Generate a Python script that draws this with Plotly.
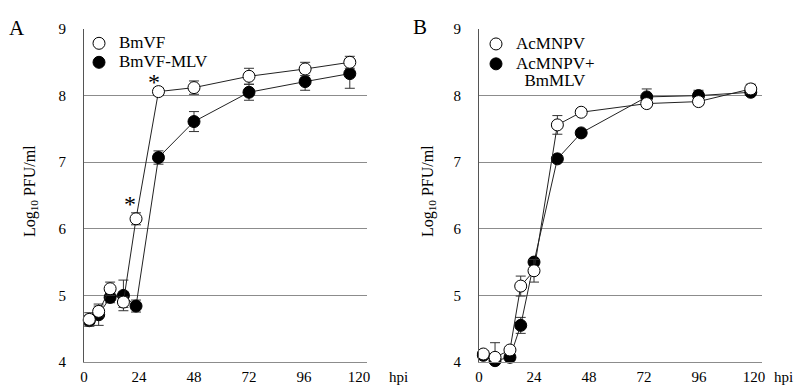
import plotly.graph_objects as go

# ---------------- data ----------------
hpi_A = [2.3, 6.4, 11.4, 17.2, 22.7, 32.5, 48, 72, 96.5, 116]
bmvf = [4.64, 4.76, 5.10, 4.90, 6.15, 8.06, 8.12, 8.29, 8.40, 8.50]
bmvf_err = [0.10, 0.08, 0.10, 0.08, 0.09, 0.06, 0.10, 0.12, 0.10, 0.09]
bmvf_mlv = [4.62, 4.71, 4.97, 5.00, 4.84, 7.07, 7.61, 8.05, 8.21, 8.33]
bmvf_mlv_err = [0.08, 0.16, 0.08, 0.23, 0.09, 0.10, 0.15, 0.12, 0.13, 0.22]

hpi_B = [1.9, 7, 13.5, 18.2, 24, 34.2, 44.6, 73.2, 95.8, 118.6]
acmnpv = [4.12, 4.07, 4.18, 5.14, 5.37, 7.56, 7.75, 7.88, 7.91, 8.10]
acmnpv_err = [0.05, 0.22, 0.05, 0.15, 0.17, 0.14, 0.05, 0.05, 0.05, 0.07]
acmnpv_mlv = [4.10, 4.02, 4.07, 4.55, 5.50, 7.05, 7.44, 7.98, 8.00, 8.05]
acmnpv_mlv_err = [0.05, 0.05, 0.05, 0.12, 0.05, 0.05, 0.05, 0.12, 0.08, 0.05]

star_idx_A = [4, 5]  # points marked with *

x_ticks = [0, 24, 48, 72, 96, 120]
y_ticks = [4, 5, 6, 7, 8, 9]

FONT = "Liberation Serif, Times New Roman, serif"
MS = 12
W, H = 804, 385
OFF = 8  # page body margin

fig = go.Figure()


def add_series(x, y, err, xa, ya, filled):
    fig.add_trace(go.Scatter(
        x=x, y=y, xaxis=xa, yaxis=ya, mode="lines+markers",
        showlegend=False, cliponaxis=False,
        line=dict(color="#222", width=1),
        marker=dict(symbol="circle", size=MS,
                    color="black" if filled else "white",
                    line=dict(color="black", width=1)),
        error_y=dict(type="data", array=err, visible=True,
                     color="#333", thickness=1, width=5),
    ))


add_series(hpi_A, bmvf_mlv, bmvf_mlv_err, "x", "y", True)
add_series(hpi_A, bmvf, bmvf_err, "x", "y", False)
add_series(hpi_B, acmnpv_mlv, acmnpv_mlv_err, "x2", "y2", True)
add_series(hpi_B, acmnpv, acmnpv_err, "x2", "y2", False)


def big(t):
    return '<span style="font-size:17px">' + t + '</span>'


def legend_entry(name, filled, legend):
    fig.add_trace(go.Scatter(
        x=[None], y=[None], mode="markers", name=name, legend=legend,
        marker=dict(symbol="circle", size=MS,
                    color="black" if filled else "white",
                    line=dict(color="black", width=1)),
    ))


legend_entry(big("BmVF"), False, "legend")
legend_entry(big("BmVF-MLV"), True, "legend")
legend_entry(big("AcMNPV"), False, "legend2")
legend_entry(big("AcMNPV+") + "<br>" + big("\u00a0\u00a0BmMLV"), True, "legend2")


def px(x):
    return (x - OFF) / W


def py(y):
    return 1 - (y - OFF) / H


dxA = [px(84), px(367)]
dxB = [px(479), px(762)]
dy = [py(362), py(29)]

xcommon = dict(range=[0, 123.5], tickvals=x_ticks, showgrid=False,
               showline=True, linecolor="#8c8c8c", linewidth=1,
               ticks="", zeroline=False, ticklabelstandoff=1, automargin=False,
               tickfont=dict(family=FONT, size=15, color="black"))
ycommon = dict(range=[4, 9], tickvals=y_ticks, showgrid=True,
               gridcolor="#8c8c8c", gridwidth=1,
               showline=True, linecolor="#555", linewidth=1,
               ticks="", zeroline=False, ticklabelstandoff=14, automargin=False,
               tickfont=dict(family=FONT, size=15, color="black"))

leg = dict(bgcolor="rgba(0,0,0,0)", tracegroupgap=0, itemwidth=30,
           xanchor="left", yanchor="top", valign="top")

fig.update_layout(
    width=W, height=H, autosize=False,
    margin=dict(l=0, r=0, t=0, b=0, pad=0, autoexpand=False),
    paper_bgcolor="white", plot_bgcolor="white",
    xaxis=dict(domain=dxA, anchor="y", **xcommon),
    yaxis=dict(domain=dy, anchor="x", **ycommon),
    xaxis2=dict(domain=dxB, anchor="y2", **xcommon),
    yaxis2=dict(domain=dy, anchor="x2", **ycommon),
    legend=dict(x=px(79), y=py(29),
                font=dict(family=FONT, size=12, color="black"), **leg),
    legend2=dict(x=px(476), y=py(29),
                 font=dict(family=FONT, size=13, color="black"), **leg),
)

ann_common = dict(xref="paper", yref="paper", showarrow=False,
                  xanchor="center", yanchor="middle")
annotations = [
    dict(text="A", x=px(17), y=py(28),
         font=dict(family=FONT, size=21, color="black"), **ann_common),
    dict(text="B", x=px(420), y=py(27),
         font=dict(family=FONT, size=21, color="black"), **ann_common),
    dict(text="hpi", x=px(398), y=py(377),
         font=dict(family=FONT, size=15, color="black"), **ann_common),
    dict(text="hpi", x=px(783), y=py(377),
         font=dict(family=FONT, size=15, color="black"), **ann_common),
    dict(text="Log<sub>10</sub> PFU/ml", x=px(30), y=py(191), textangle=-90,
         font=dict(family=FONT, size=16, color="black"), **ann_common),
    dict(text="Log<sub>10</sub> PFU/ml", x=px(428), y=py(191), textangle=-90,
         font=dict(family=FONT, size=16, color="black"), **ann_common),
]
star_shift = [(-6, 15), (-4, 10)]
for i, (sx, sy) in zip(star_idx_A, star_shift):
    annotations.append(dict(text="*", x=hpi_A[i], y=bmvf[i], xref="x", yref="y",
                            xshift=sx, yshift=sy, showarrow=False,
                            xanchor="center", yanchor="middle",
                            font=dict(family=FONT, size=24, color="black")))
fig.update_layout(annotations=annotations)

fig.write_html("out.html")
